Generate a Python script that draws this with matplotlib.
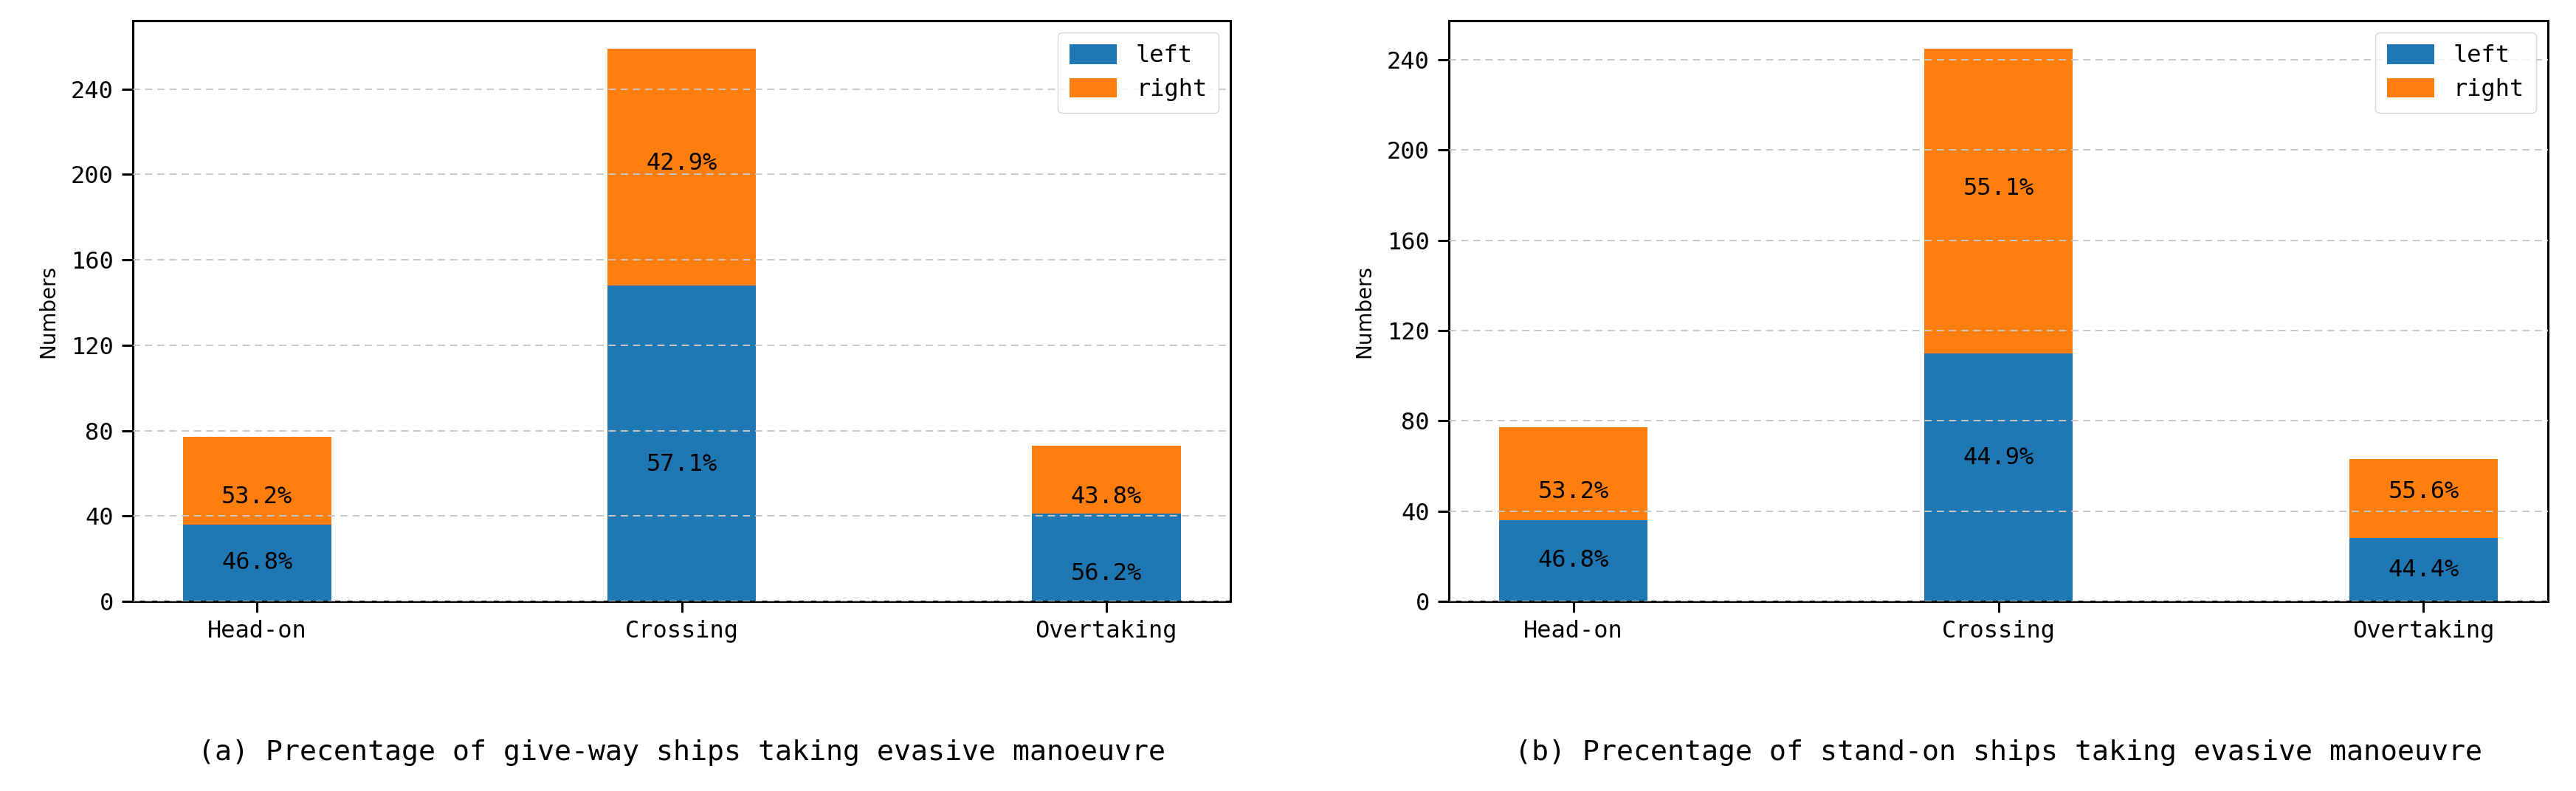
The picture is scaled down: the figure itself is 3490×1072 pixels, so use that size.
import numpy as np
import matplotlib
matplotlib.use("Agg")
import matplotlib.pyplot as plt

# data
scenes = ["Head-on", "Crossing", "Overtaking"]

giveway_left = [36, 148, 41]
giveway_right = [41, 111, 32]
giveway_left_pct = ["46.8%", "57.1%", "56.2%"]
giveway_right_pct = ["53.2%", "42.9%", "43.8%"]
giveway_left_lab_y = [18, 64, 13]
giveway_right_lab_y = [49, 205, 49]

standon_left = [36, 110, 28]
standon_right = [41, 135, 35]
standon_left_pct = ["46.8%", "44.9%", "44.4%"]
standon_right_pct = ["53.2%", "55.1%", "55.6%"]
standon_left_lab_y = [18, 63.5, 14]
standon_right_lab_y = [48.5, 183, 48.5]

captions = ["(a) Precentage of give-way ships taking evasive manoeuvre",
            "(b) Precentage of stand-on ships taking evasive manoeuvre"]

mono = "DejaVu Sans Mono"
plt.rcParams['font.family'] = [mono, 'DejaVu Sans']
plt.rcParams['axes.linewidth'] = 2.2


def draw_panel(ax, left, right, lpct, rpct, ly, ry):
    x = np.arange(len(scenes))
    w = 0.35
    ax.bar(x, left, w, color='#1f77b4', label='left')
    ax.bar(x, right, w, bottom=left, color='#ff7f0e', label='right')
    for i in range(len(x)):
        ax.text(x[i], ly[i], lpct[i], ha='center', va='center', fontsize=23, family=mono)
        ax.text(x[i], ry[i], rpct[i], ha='center', va='center', fontsize=23, family=mono)
    ax.set_xticks(x)
    ax.set_xticklabels(scenes, fontsize=23, family=mono)
    ax.set_yticks(np.arange(0, 241, 40))
    for t in ax.get_yticklabels():
        t.set_fontsize(23)
        t.set_family(mono)
    ax.tick_params(axis='both', length=11, width=2.2)
    ax.tick_params(axis='x', pad=7)
    ax.tick_params(axis='y', pad=8)
    ax.yaxis.grid(True, linestyle=(0, (5, 3.5)), linewidth=1.4, color='#c8c8c8')
    ax.set_axisbelow(False)
    ax.set_ylabel("Numbers", fontsize=20, family='DejaVu Sans', labelpad=12)
    ax.legend(loc='upper right', fontsize=23, prop={'family': mono, 'size': 23},
              handlelength=2.0, handleheight=0.9, borderpad=0.5, labelspacing=0.45)


fig = plt.figure(figsize=(34.9, 10.72), dpi=100)
ax1 = fig.add_axes([0.05158, 0.2397, 0.4261, 0.7341])
ax2 = fig.add_axes([0.5625, 0.2397, 0.4266, 0.7341])

draw_panel(ax1, giveway_left, giveway_right, giveway_left_pct, giveway_right_pct,
           giveway_left_lab_y, giveway_right_lab_y)
draw_panel(ax2, standon_left, standon_right, standon_left_pct, standon_right_pct,
           standon_left_lab_y, standon_right_lab_y)

for ax, cap in zip([ax1, ax2], captions):
    pos = ax.get_position()
    fig.text(pos.x0 + pos.width / 2, 0.039, cap, ha='center', va='baseline',
             fontsize=27.5, family=mono)

fig.savefig("out.png", dpi=100)
